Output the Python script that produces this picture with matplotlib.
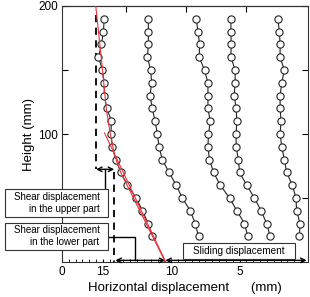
import matplotlib
matplotlib.use("Agg")
import matplotlib.pyplot as plt
from matplotlib.patches import Rectangle
from matplotlib.ticker import MultipleLocator

plt.rcParams['font.family'] = ['Liberation Sans', 'DejaVu Sans']

# measurement heights (mm)
heights = [190, 180, 170, 160, 150, 140, 130, 120, 110, 100, 90, 80, 70, 60, 50, 40, 30, 20]

# horizontal displacement (mm) of each profile
disp_1 = [14.91, 14.97, 15.11, 15.33, 15.04, 14.91, 14.91, 14.72, 14.38, 14.42,
          14.31, 14.07, 13.70, 13.21, 12.56, 12.12, 11.68, 11.39]
disp_2 = [11.68, 11.68, 11.68, 11.75, 11.51, 11.44, 11.56, 11.39, 11.19, 11.02,
          10.90, 10.66, 10.17, 9.64, 9.20, 8.61, 8.25, 8.01]
disp_3 = [8.18, 8.05, 7.93, 7.96, 7.57, 7.32, 7.32, 7.32, 7.15, 7.28,
          7.32, 7.21, 6.91, 6.42, 5.74, 5.20, 4.65, 4.40]
disp_4 = [5.64, 5.64, 5.62, 5.64, 5.33, 5.33, 5.40, 5.26, 5.21, 5.26,
          5.26, 5.09, 5.01, 4.48, 3.92, 3.43, 3.02, 2.77]
disp_5 = [2.21, 2.09, 2.04, 2.04, 1.73, 1.92, 2.04, 2.04, 1.97, 2.04,
          1.92, 1.73, 1.56, 1.14, 0.88, 0.83, 0.58, 0.63]
profiles = [disp_1, disp_2, disp_3, disp_4, disp_5]

# red fitted curves
fit_upper_x = [15.53, 15.11, 14.75, 14.45, 14.16, 13.72, 12.99, 11.90, 10.44]
fit_upper_y = [200, 157.8, 118.8, 99.2, 83.6, 70.3, 54.7, 31.3, 0]
fit_lower_x = [14.89, 10.42]
fit_lower_y = [100.8, 0.2]

# dashed reference lines
dash_top_x = 15.51
dash_top_y = [193, 72.4]
dash_bot_x = 14.18
dash_bot_y = [70.3, 0]

# x ticks
xtick_pos = [18, 15, 10, 5]
xtick_labels = ['0', '15', '10', '5']

fig = plt.figure(figsize=(3.1, 2.97), dpi=100)
ax = fig.add_axes([0.2, 0.1178, 0.7935, 0.862])

for d in profiles:
    ax.plot(d, heights, '-o', color='#222222', lw=0.8, ms=5.2, mfc='white',
            mec='#222222', mew=0.8, zorder=3)

ax.plot(fit_upper_x, fit_upper_y, color='#e8323c', lw=0.8, zorder=4)
ax.plot(fit_lower_x, fit_lower_y, color='#e8323c', lw=0.8, zorder=4)

ax.plot([dash_top_x, dash_top_x], dash_top_y, color='black', lw=1.3, ls=(0, (4, 3)), zorder=2)
ax.plot([dash_bot_x, dash_bot_x], dash_bot_y, color='black', lw=1.3, ls=(0, (4, 3)), zorder=2)

arrow = dict(arrowstyle='<->', lw=1.0, color='black', shrinkA=0, shrinkB=0,
             mutation_scale=8)
# upper shear displacement
ax.annotate('', xy=(dash_bot_x, 72.4), xytext=(dash_top_x, 72.4), arrowprops=arrow)
ax.plot([14.84, 14.84], [72.4, 57], color='black', lw=1.0, clip_on=False)
# lower shear displacement
ax.annotate('', xy=(10.44, 1.3), xytext=(14.09, 1.3), arrowprops=arrow,
            annotation_clip=False)
ax.plot([14.6, 12.63, 12.63], [19.5, 19.5, 1.3], color='black', lw=1.0, clip_on=False)
# sliding displacement
ax.annotate('', xy=(0.1, 1.3), xytext=(10.44, 1.3), arrowprops=arrow,
            annotation_clip=False)

# label boxes
box_kw = dict(fc='white', ec='#333333', lw=0.8, clip_on=False, zorder=5)
ax.add_patch(Rectangle((14.6, 35.2), 7.6, 21.8, **box_kw))
ax.add_patch(Rectangle((14.6, 9.4), 7.6, 21.1, **box_kw))
ax.add_patch(Rectangle((0.95, 2.6), 8.18, 12.2, **box_kw))
ax.text(15.26, 46, 'Shear displacement\nin the upper part', ha='right', va='center',
        multialignment='right', fontsize=7, zorder=6, clip_on=False, linespacing=1.25)
ax.text(15.26, 20, 'Shear displacement\nin the lower part', ha='right', va='center',
        multialignment='right', fontsize=7, zorder=6, clip_on=False, linespacing=1.25)
ax.text(5.04, 8.7, 'Sliding displacement', ha='center', va='center',
        fontsize=7.2, zorder=6)

ax.set_xlim(18, 0)
ax.set_ylim(0, 200)
ax.set_xticks(xtick_pos)
ax.set_xticklabels(xtick_labels)
ax.xaxis.set_minor_locator(MultipleLocator(0.5))
ax.set_yticks([50, 100, 150, 200])
ax.set_yticklabels(['', '100', '', '200'])
ax.tick_params(direction='in', labelsize=8.5, length=4, width=0.8, right=True,
               pad=3)
ax.tick_params(axis='x', which='minor', direction='in', length=2, width=0.6)
ax.tick_params(axis='x', which='major', length=2, top=False)
for s in ax.spines.values():
    s.set_linewidth(0.8)
    s.set_color('#333333')

top = ax.secondary_xaxis('top')
top.set_xticks([13.3, 8.9, 4.5])
top.set_xticklabels([])
top.tick_params(direction='in', length=4, width=0.8)

ax.set_ylabel('Height (mm)', fontsize=9.5, labelpad=2)
ax.set_xlabel('Horizontal displacement      (mm)', fontsize=9.5, labelpad=3)

fig.savefig('out.png', dpi=100)
